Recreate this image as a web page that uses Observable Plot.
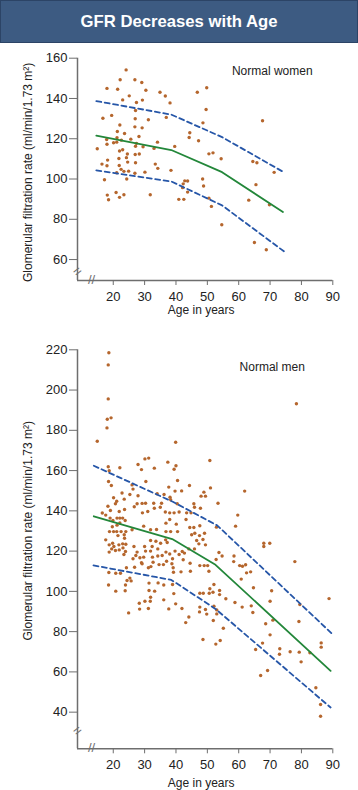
<!DOCTYPE html>
<html>
<head>
<meta charset="utf-8">
<script src="https://cdn.jsdelivr.net/npm/d3@7"></script>
<script src="https://cdn.jsdelivr.net/npm/@observablehq/plot@0.6"></script>
<style>
  body { margin: 0; background: #fff; font-family: "Liberation Sans", Arial, sans-serif; }
  #title { height: 43px; box-sizing: border-box; background: #3d5b82; border: 1px solid #2c4466;
    color: #fff; font-weight: bold; font-size: 16.7px; display: flex; align-items: center; justify-content: center; }
  svg { display: block; }
</style>
</head>
<body>
<div id="title">GFR Decreases with Age</div>
<div id="top"></div>
<div id="bottom"></div>
<script>
// ---------- Data ----------
const xTicks = [20, 30, 40, 50, 60, 70, 80, 90];
const womenTicks = [60, 80, 100, 120, 140, 160];
const menTicks = [40, 60, 80, 100, 120, 140, 160, 180, 200, 220];

const womenAge = [24.1,22.2,26.9,18.0,21.4,29.1,30.4,34.9,36.6,46.8,49.8,23.0,25.1,27.4,29.3,38.1,49.6,27.1,16.7,19.5,27.0,31.2,36.9,48.6,67.6,22.1,26.9,29.2,21.3,23.6,44.4,44.2,47.2,25.6,28.2,17.9,21.2,20.1,21.1,22.6,18.0,27.4,34.1,14.9,22.0,23.0,27.1,29.5,33.0,39.6,24.5,27.0,28.3,21.8,24.2,24.6,27.1,18.2,16.4,18.0,21.9,22.5,23.4,24.9,26.9,30.1,33.4,34.2,38.4,50.5,51.8,54.4,64.5,65.8,71.3,24.3,17.2,21.1,42.8,43.7,42.3,42.1,48.5,48.8,65.5,43.7,20.9,18.1,18.5,22.0,23.4,31.8,40.9,42.5,50.5,51.3,63.2,69.8,54.6,65.0,68.8];
const womenGfr = [154.2,149.3,149.3,145.0,144.6,147.9,144.1,143.1,141.2,143.1,145.3,139.3,141.3,138.0,139.2,137.8,134.5,134.0,130.2,131.6,129.9,129.4,130.6,127.9,128.9,126.8,125.9,125.4,123.6,122.6,123.0,120.6,119.0,119.8,121.1,119.6,120.5,118.0,118.3,119.3,117.3,117.7,118.3,115.0,113.9,114.5,116.3,116.0,115.2,116.2,112.4,112.2,112.4,110.2,110.6,108.4,108.1,109.4,107.4,106.6,106.7,104.8,103.8,103.9,102.9,103.4,107.4,105.3,104.3,112.5,113.0,110.1,108.7,108.1,103.3,100.0,99.6,103.1,99.1,99.0,97.6,95.7,100.0,96.5,97.2,93.5,93.3,92.0,89.7,90.9,92.2,92.2,89.9,89.9,90.5,86.4,89.5,87.2,77.3,68.5,64.9];

const womenMeanAge = [14.6, 38.5, 54.7, 74.1];
const womenMeanGfr = [121.5, 114.4, 103.4, 83.6];
const womenUpperAge = [14.6, 38.5, 54.7, 74.7];
const womenUpperGfr = [138.7, 132.0, 120.8, 103.1];
const womenLowerAge = [14.6, 38.5, 54.7, 74.4];
const womenLowerGfr = [104.3, 98.8, 86.9, 64.1];

const menAge = [18.6,18.4,18.4,18.1,19.3,18.0,14.9,39.9,78.4,50.8,30.1,31.3,27.9,29.0,37.4,40.0,39.4,33.1,18.4,22.1,18.7,18.5,19.4,30.4,40.5,37.7,44.3,51.0,61.9,41.8,39.7,26.0,22.8,25.3,27.9,26.3,34.0,36.2,38.1,48.9,48.0,49.4,20.1,21.1,20.7,23.5,27.6,29.2,26.7,30.3,32.9,33.1,35.4,38.3,40.4,45.7,45.9,53.4,18.3,19.1,17.6,16.5,21.9,23.6,29.3,31.0,35.0,36.6,38.0,39.4,41.0,43.4,44.8,47.8,59.7,59.0,52.9,19.0,19.9,21.2,22.1,23.0,23.8,21.2,22.1,19.7,26.0,29.7,31.9,33.8,36.8,38.0,40.1,43.2,44.4,45.7,47.6,
18.8,20.1,21.1,22.5,24.0,21.5,23.5,23.6,36.8,38.3,40.5,45.0,46.0,47.5,49.1,48.6,17.6,19.8,20.2,21.8,23.0,24.0,18.7,19.5,20.7,21.9,23.1,23.9,23.4,18.7,26.6,30.0,31.9,32.4,33.6,35.1,37.2,34.2,36.8,38.0,39.7,41.0,42.0,42.7,44.1,45.9,47.3,49.4,46.6,36.7,27.6,30.3,31.9,27.2,26.3,28.5,29.7,32.5,34.2,35.6,32.7,34.6,36.0,37.0,38.9,38.7,42.3,44.5,47.6,49.0,50.1,52.8,53.7,54.7,58.5,58.4,60.3,61.2,62.2,29.0,29.2,31.2,32.0,26.8,24.2,22.3,20.8,18.6,39.1,39.2,41.6,44.6,50.5,62.5,63.8,60.8,68.0,68.0,69.9,77.9,25.3,24.4,25.7,23.9,18.5,20.8,23.8,31.4,34.3,36.1,38.9,33.2,31.4,39.3,47.6,48.7,50.8,51.8,50.6,52.1,53.9,53.9,55.9,64.7,70.5,30.1,31.8,31.9,28.3,28.4,31.2,36.1,37.7,39.9,41.9,47.6,47.5,49.4,49.8,52.1,53.0,53.0,51.9,58.8,61.1,64.0,64.5,70.0,79.5,24.9,44.1,43.1,55.1,68.6,70.9,79.2,88.8,48.6,52.7,54.1,65.4,67.6,70.0,73.1,73.0,76.4,79.3,82.7,79.9,86.3,86.3,67.0,69.2,84.6,86.1,86.1];
const menGfr = [218.5,212.5,195.6,185.5,186.2,181.2,174.6,174.1,193.2,165.0,165.8,166.2,163.0,160.5,164.2,162.4,160.7,161.2,161.9,161.4,159.9,154.6,152.6,154.6,155.1,151.8,152.6,151.4,149.8,149.9,149.8,152.9,148.9,148.1,147.5,150.8,148.5,148.1,146.8,149.3,147.3,147.3,146.5,144.8,143.5,145.8,143.5,143.7,142.0,143.8,143.8,141.3,143.8,145.5,143.5,143.5,141.8,143.8,142.3,140.2,137.9,138.9,139.7,140.7,139.0,139.7,141.8,139.4,139.0,139.0,139.4,139.0,139.0,141.3,137.9,132.4,131.9,136.4,135.2,136.4,136.4,136.4,135.2,132.9,134.0,132.1,130.6,132.4,130.6,130.7,133.9,135.7,133.4,135.7,131.7,131.7,132.6,
129.7,129.7,129.7,129.7,129.7,127.7,128.1,126.4,129.7,129.7,129.7,128.1,128.9,127.7,128.9,125.8,125.6,123.9,122.3,123.1,123.6,123.4,123.1,121.1,120.3,120.6,121.6,119.8,118.3,119.5,122.3,122.3,125.3,122.3,124.9,123.9,124.3,121.1,119.5,118.6,120.0,118.3,119.8,119.0,121.1,121.1,123.6,123.1,125.3,125.6,119.5,120.0,120.0,117.8,116.2,116.7,117.0,117.0,117.6,117.8,114.5,113.3,113.3,115.0,116.2,113.7,115.7,114.0,112.8,112.8,112.8,115.8,119.3,117.6,117.6,114.8,112.8,112.5,113.2,114.2,113.7,111.7,112.3,112.0,111.7,109.0,109.0,109.4,111.7,109.5,109.7,110.0,110.0,109.2,109.7,106.1,123.9,122.3,123.9,114.8,106.6,105.4,105.2,103.2,103.2,100.1,100.3,104.1,104.2,103.2,103.4,100.1,100.4,98.9,99.1,99.1,101.3,99.6,99.1,103.4,100.4,98.4,96.3,101.8,100.3,95.1,95.1,97.1,94.1,91.2,91.5,95.8,91.3,93.8,91.5,92.2,89.8,91.0,88.7,92.6,90.8,88.8,85.5,94.5,92.2,92.8,89.5,95.1,93.5,89.3,87.3,84.5,81.7,83.9,85.7,85.0,96.4,76.1,73.8,75.6,71.1,74.3,78.4,71.5,68.8,70.0,69.8,69.5,65.0,74.4,72.3,58.2,60.7,52.1,43.8,38.0];

const menMeanAge = [13.8, 38.8, 52.6, 89.3];
const menMeanGfr = [137.3, 126.0, 113.2, 60.5];
const menUpperAge = [13.8, 39.0, 53.2, 90.0];
const menUpperGfr = [162.4, 144.5, 132.7, 78.6];
const menLowerAge = [13.7, 38.5, 52.6, 89.3];
const menLowerGfr = [112.9, 105.7, 91.3, 42.3];

const yLabel = "Glomerular filtration rate (ml/min/1.73 m²)";
const xLabel = "Age in years";

// ---------- Drawing ----------
const BROWN = "#b5662d", GREEN = "#23873a", BLUE = "#2656a8", AXIS = "#6e6e6e", INK = "#222";
const X_DOMAIN = [8.6, 90];

function zip(a, b) { return a.map((v, i) => ({age: v, gfr: b[i]})); }

function panel(cfg) {
  const [y0, y1] = cfg.yDomain;
  return Plot.plot({
    width: 358,
    height: cfg.height,
    marginLeft: 77,
    marginRight: 25.7,
    marginTop: cfg.marginTop,
    marginBottom: cfg.marginBottom,
    style: {fontFamily: '"Liberation Sans", Arial, sans-serif', fontSize: "13px", color: INK, background: "#fff", overflow: "visible"},
    x: {domain: X_DOMAIN},
    y: {domain: cfg.yDomain},
    marks: [
      Plot.ruleX([X_DOMAIN[0]], {y1: () => y0, y2: () => y1, stroke: AXIS, strokeWidth: 1.5}),
      Plot.ruleY([y0], {x1: () => X_DOMAIN[0], x2: () => X_DOMAIN[1], stroke: AXIS, strokeWidth: 1.5}),
      Plot.axisY(cfg.yTicks, {tickSize: 8, tickPadding: 2, stroke: AXIS, fill: INK, fontSize: 13, label: null}),
      Plot.axisX(xTicks, {tickSize: 5, tickPadding: 6, stroke: AXIS, fill: INK, fontSize: 13, label: null}),
      Plot.text(["//"], {frameAnchor: "bottom-left", textAnchor: "middle", lineAnchor: "middle", dx: 14, dy: -1, fill: AXIS, fontSize: 13}),
      Plot.text(["="], {frameAnchor: "bottom-left", textAnchor: "middle", lineAnchor: "middle", dy: -cfg.breakUp, rotate: -38, fill: AXIS, fontSize: 14}),
      Plot.dot(zip(cfg.age, cfg.gfr), {x: "age", y: "gfr", r: 1.7, fill: BROWN}),
      Plot.line(zip(cfg.upperAge, cfg.upperGfr), {x: "age", y: "gfr", stroke: BLUE, strokeWidth: 1.8, strokeDasharray: "5,3.5"}),
      Plot.line(zip(cfg.lowerAge, cfg.lowerGfr), {x: "age", y: "gfr", stroke: BLUE, strokeWidth: 1.8, strokeDasharray: "5,3.5"}),
      Plot.line(zip(cfg.meanAge, cfg.meanGfr), {x: "age", y: "gfr", stroke: GREEN, strokeWidth: 1.8}),
      Plot.text([cfg.title], {x: () => cfg.titleAt[0], y: () => cfg.titleAt[1], fill: INK, fontSize: 12}),
      Plot.text([yLabel], {frameAnchor: "left", textAnchor: "middle", lineAnchor: "middle", rotate: -90, dx: -49.5, dy: cfg.yLabelDy, fill: INK, fontSize: 12}),
      Plot.text([xLabel], {frameAnchor: "bottom", textAnchor: "middle", lineAnchor: "middle", dx: -4, dy: cfg.xLabelDy, fill: INK, fontSize: 12})
    ]
  });
}

document.getElementById("top").append(panel({
  height: 282, marginTop: 14.7, marginBottom: 45,
  yDomain: [49.6, 160], yTicks: womenTicks,
  age: womenAge, gfr: womenGfr,
  meanAge: womenMeanAge, meanGfr: womenMeanGfr,
  upperAge: womenUpperAge, upperGfr: womenUpperGfr,
  lowerAge: womenLowerAge, lowerGfr: womenLowerGfr,
  title: "Normal women", titleAt: [70.7, 153.4],
  yLabelDy: 3, breakUp: 9, xLabelDy: 30
}));

document.getElementById("bottom").append(panel({
  height: 465, marginTop: 24.3, marginBottom: 41.7,
  yDomain: [21.8, 220], yTicks: menTicks,
  age: menAge, gfr: menGfr,
  meanAge: menMeanAge, meanGfr: menMeanGfr,
  upperAge: menUpperAge, upperGfr: menUpperGfr,
  lowerAge: menLowerAge, lowerGfr: menLowerGfr,
  title: "Normal men", titleAt: [70.7, 211.2],
  yLabelDy: -18.5, breakUp: 18, xLabelDy: 34
}));
</script>
</body>
</html>
